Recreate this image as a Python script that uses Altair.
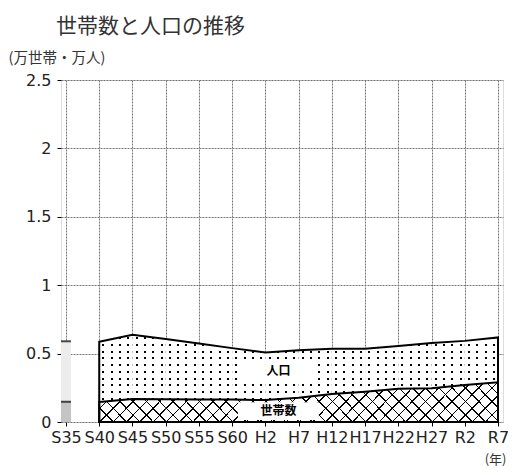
import math
import altair as alt
import pandas as pd

years = ["S35", "S40", "S45", "S50", "S55", "S60", "H2", "H7", "H12", "H17", "H22", "H27", "R2", "R7"]
population = [0.59, 0.586, 0.637, 0.606, 0.574, 0.54, 0.508, 0.525, 0.535, 0.535, 0.555, 0.578, 0.593, 0.618]
households = [0.148, 0.146, 0.168, 0.166, 0.165, 0.165, 0.16, 0.177, 0.204, 0.221, 0.243, 0.246, 0.27, 0.29]
series_labels = ["人口", "世帯数"]

STEP = 34
PLOT_W = STEP * (len(years) - 1)
PLOT_H = 342
Y_MAX = 2.5
CJK = "Noto Sans CJK JP"
LATIN = "DejaVu Sans"
TRANSP = "rgba(255,255,255,0)"
GRID = "#777"

idx = list(range(len(years)))
df = pd.DataFrame({"i": idx, "year": years, "pop": population, "hh": households})
main = df[df.i >= 1]
first = df[df.i == 0]

# one small path per interval (for the vertical dot columns)
seg_rows = []
for j in range(1, len(years) - 1):
    for q in (j, j + 1):
        seg_rows.append({"i": q, "pop": population[q], "hh": households[q], "seg": j})
segs = pd.DataFrame(seg_rows)

# hatch tiles: two intervals each, from the base up to just above the highest household value
hatch_top = math.ceil(max(households) * 10) / 10
tiles = pd.DataFrame({
    "i0": list(range(1, len(years) - 1, 2)),
    "i1": list(range(3, len(years) + 1, 2)),
})
tiles["y0"] = 0.0
tiles["y1"] = hatch_top


def stop(o, c):
    return alt.GradientStop(offset=min(max(o, 0.0), 1.0), color=c)


def gap_stripes(period_px, total_px, gap_px, cover, x1, y1, x2, y2):
    stops = []
    n = int(math.ceil(total_px / period_px))
    for k in range(n):
        s = k * period_px / total_px
        e = (k + 1) * period_px / total_px
        g0 = s + (period_px - gap_px) / 2 / total_px
        g1 = g0 + gap_px / total_px
        stops += [stop(s, cover), stop(g0, cover), stop(g0, TRANSP), stop(g1, TRANSP), stop(g1, cover), stop(e, cover)]
    return alt.Gradient(gradient="linear", stops=stops, x1=x1, y1=y1, x2=x2, y2=y2)


def line_stripes(period_px, total_px, lw_px, x1, y1, x2, y2):
    stops = []
    n = int(math.ceil(total_px / period_px))
    for k in range(n):
        s = k * period_px / total_px
        e = (k + 1) * period_px / total_px
        stops += [stop(s, "black"), stop(s + lw_px / total_px, "black"),
                  stop(s + lw_px / total_px, TRANSP), stop(e, TRANSP)]
    return alt.Gradient(gradient="linear", stops=stops, x1=x1, y1=y1, x2=x2, y2=y2)


# dot pattern (population band)
band_h = (max(population[1:]) - min(households[1:])) / Y_MAX * PLOT_H
dots_v = gap_stripes(STEP / 4, STEP, 2.0, "white", 0, 0, 1, 0)
row_p = band_h / round(band_h / 7.0)
dots_h = gap_stripes(row_p, band_h, 2.0, "white", 0, 0, 0, 1)

# cross hatch (households)
TW = 2 * STEP
TH = hatch_top / Y_MAX * PLOT_H
r = TH / TW
k = (TW + TH) / (TW * (1 + r * r))
diag_p = TW / 5
hatch_a = line_stripes(diag_p, TW + TH, 1.6, 0, 0, k, k * r)
hatch_b = line_stripes(diag_p, TW + TH, 1.6, 0, 1, k, 1 - k * r)

label_expr = "[" + ",".join("'%s'" % y for y in years) + "][datum.value]"

x_scale = alt.Scale(domain=[0, len(years) - 1], nice=False, zero=False)
x_axis = alt.Axis(
    values=idx, labelExpr=label_expr, title="(年)", titleAlign="right", titleBaseline="middle",
    titleX=445, titleY=37, titleFont=CJK, titleFontSize=13, titleFontWeight="normal", titleColor="#333",
    labelFont=LATIN, labelFontSize=16, labelColor="#222", labelPadding=3, tickSize=4, tickColor="black",
    domain=False, grid=True, gridColor=GRID, gridDash=[2, 1], gridWidth=1, labelOverlap=False,
)


def X(field):
    return alt.X(field, scale=x_scale, axis=x_axis)


y_scale = alt.Scale(domain=[0, Y_MAX], nice=False)
y_axis = alt.Axis(
    values=[0, 0.5, 1, 1.5, 2, 2.5], format="~g", title="(万世帯・万人)", titleAngle=0, titleAlign="left",
    titleBaseline="middle", titleX=-53, titleY=-22, titleFont=CJK, titleFontSize=14.5, titleFontWeight="normal",
    titleColor="#333", labelFont=LATIN, labelFontSize=16, labelColor="#222", labelPadding=6, tickSize=4,
    tickColor="black", domain=False, grid=True, gridColor=GRID, gridDash=[2, 1], gridWidth=1,
)


def Y(field):
    return alt.Y(field, scale=y_scale, axis=y_axis)


tb = alt.Chart(tiles)
tile_white = tb.mark_rect(fill="white").encode(x=X("i0:Q"), x2="i1:Q", y=Y("y0:Q"), y2="y1:Q")
tile_a = tb.mark_rect(fill=hatch_a).encode(x=X("i0:Q"), x2="i1:Q", y=Y("y0:Q"), y2="y1:Q")
tile_b = tb.mark_rect(fill=hatch_b).encode(x=X("i0:Q"), x2="i1:Q", y=Y("y0:Q"), y2="y1:Q")

base = alt.Chart(main)
band_black = base.mark_area(fill="black").encode(x=X("i:Q"), y=Y("pop:Q"), y2="hh:Q")
band_v = alt.Chart(segs).mark_area(fill=dots_v).encode(x=X("i:Q"), y=Y("pop:Q"), y2="hh:Q", detail="seg:N")
band_h = base.mark_area(fill=dots_h).encode(x=X("i:Q"), y=Y("pop:Q"), y2="hh:Q")

lab = pd.DataFrame({
    "i": [idx[6], idx[6]],
    "y": [(population[6] + households[6]) / 2, households[6] / 2],
    "t": series_labels,
})
box_pop = alt.Chart(lab.iloc[[0]]).mark_point(
    shape="M-1,-0.28L1,-0.28L1,0.28L-1,0.28Z", size=5929, filled=True, fill="white", opacity=1, strokeWidth=0,
    xOffset=13, yOffset=-5,
).encode(x=X("i:Q"), y=Y("y:Q"))
box_hh = alt.Chart(lab.iloc[[1]]).mark_point(
    shape="M-1,-0.22L1,-0.22L1,0.22L-1,0.22Z", size=6561, filled=True, fill="white", opacity=1, strokeWidth=0,
    xOffset=13,
).encode(x=X("i:Q"), y=Y("y:Q"))
txt_pop = alt.Chart(lab.iloc[[0]]).mark_text(
    font=CJK, fontSize=12, fontWeight="bold", color="black", dx=13, dy=-5,
).encode(x=X("i:Q"), y=Y("y:Q"), text="t:N")
txt_hh = alt.Chart(lab.iloc[[1]]).mark_text(
    font=CJK, fontSize=12, fontWeight="bold", color="black", dx=13,
).encode(x=X("i:Q"), y=Y("y:Q"), text="t:N")

pop_stroke = base.mark_area(fill="transparent", stroke="black", strokeWidth=2).encode(x=X("i:Q"), y=Y("pop:Q"))
hh_stroke = base.mark_area(fill="transparent", stroke="black", strokeWidth=2).encode(x=X("i:Q"), y=Y("hh:Q"))

# first year sliver (S35)
fb = alt.Chart(first)
s_pop = fb.mark_bar(width=10, clip=True, fill="#ececec").encode(x=X("i:Q"), y=Y("pop:Q"))
s_hh = fb.mark_bar(width=10, clip=True, fill="#c4c4c4").encode(x=X("i:Q"), y=Y("hh:Q"))
s_pop_cap = fb.mark_tick(orient="horizontal", size=10, thickness=2, color="black", clip=True).encode(x=X("i:Q"), y=Y("pop:Q"))
s_hh_cap = fb.mark_tick(orient="horizontal", size=10, thickness=2, color="black", clip=True).encode(x=X("i:Q"), y=Y("hh:Q"))

chart = alt.layer(
    tile_white, tile_a, tile_b, band_black, band_v, band_h, box_pop, box_hh, txt_pop, txt_hh,
    pop_stroke, hh_stroke, s_pop, s_hh, s_pop_cap, s_hh_cap,
).properties(
    width=PLOT_W,
    height=PLOT_H,
    autosize=alt.AutoSizeParams(type="none"),
    padding={"left": 53, "top": 72, "right": 5, "bottom": 44},
    title=alt.TitleParams(
        "世帯数と人口の推移", anchor="start", frame="group", font=CJK, fontSize=21, fontWeight="normal",
        color="#333", dx=-5, offset=13,
    ),
).configure_view(stroke="black", strokeWidth=2.5).configure(background="white")

chart.save("out.html", embed_options={"renderer": "svg", "actions": False})
